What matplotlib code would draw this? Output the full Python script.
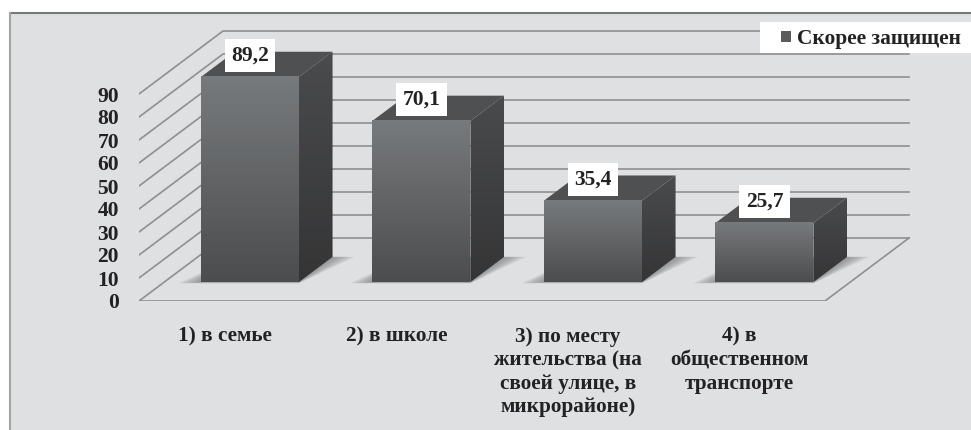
import numpy as np
import matplotlib
matplotlib.use('Agg')
import matplotlib.pyplot as plt
from matplotlib.lines import Line2D
from matplotlib.patches import Patch, Polygon, Rectangle

plt.rcParams['font.family'] = ['Liberation Serif', 'DejaVu Serif']
plt.rcParams['font.weight'] = 'bold'

categories = ['1) в семье', '2) в школе',
              '3) по месту\nжительства (на\nсвоей улице, в\nмикрорайоне)',
              '4) в\nобщественном\nтранспорте']
values = [89.2, 70.1, 35.4, 25.7]
value_labels = ['89,2', '70,1', '35,4', '25,7']
y_ticks = list(range(0, 100, 10))
series_name = 'Скорее защищен'

W, H = 971, 430
PANEL = '#dfe0e2'
GRID = '#8e8f91'
TEXT = '#222222'

# смещение глубины: в единицах категорий и значений
DEPTH_X = 84 / 171.5
DEPTH_Y = 63 / 2.3
BAR_W = 98 / 171.5
BAR_DX = (1 - BAR_W) / 2


def proj(c, v, d):
    return c + d * DEPTH_X, v + d * DEPTH_Y


fig = plt.figure(figsize=(W / 100, H / 100), dpi=100, facecolor='white')

# фон и рамка
fig.add_artist(Rectangle((10 / W, 0), 1, 1 - 13 / H, transform=fig.transFigure,
                         fc=PANEL, ec='none', zorder=-3))
fig.add_artist(Line2D([10 / W, 1], [1 - 13 / H, 1 - 13 / H], color='#77787a', lw=1.5, zorder=-2))
fig.add_artist(Line2D([10 / W, 10 / W], [0, 1 - 13 / H], color='#a2a3a5', lw=1.5, zorder=-2))

# оси: 139..928 px по x, 301..13.5 px по y
ax = fig.add_axes([139 / W, 1 - 301 / H, 789 / W, 287.5 / H])
ax.patch.set_alpha(0)
for s in ax.spines.values():
    s.set_visible(False)

# сетка: диагональ слева и линии на задней стенке
for t in y_ticks:
    x0, y0 = proj(0, t, 0)
    x1, y1 = proj(0, t, 1)
    x2, y2 = proj(4, t, 1)
    ax.plot([x0, x1, x2], [y0, y1, y2], color=GRID, lw=1.2, zorder=1)
# пол
fx, fy = zip(proj(0, 0, 0), proj(4, 0, 0), proj(4, 0, 1))
ax.plot(fx, fy, color=GRID, lw=1.2, zorder=1)

top_grad = np.linspace(0, 1, 64).reshape(-1, 1)
front_cmap = matplotlib.colors.LinearSegmentedColormap.from_list('f', ['#777a7c', '#4c4d4f'])
side_cmap = matplotlib.colors.LinearSegmentedColormap.from_list('s', ['#4a4b4d', '#353536'])

for i, val in enumerate(values):
    # передний левый и правый край столбца
    fl = i + BAR_DX
    fr = fl + BAR_W

    # тень на полу
    for k in range(1, 7):
        e = k * 0.012
        p = [proj(fl - 1.8 * e, -0.6 * k * 0.15, 0.3), proj(fr, -0.6 * k * 0.15, 0.3),
             proj(fr + 1.8 * e, 0, 0.7), proj(fl, 0, 0.7)]
        ax.add_patch(Polygon(p, fc='#6a6b6d', ec='none', alpha=0.13, zorder=2))

    # передняя грань
    a = proj(fl, 0, 0.3)
    b = proj(fr, val, 0.3)
    ax.imshow(top_grad, extent=(a[0], b[0], a[1], b[1]), cmap=front_cmap,
              aspect='auto', origin='upper', zorder=4)

    # боковая грань
    side = [proj(fr, 0, 0.3), proj(fr, 0, 0.7), proj(fr, val, 0.7), proj(fr, val, 0.3)]
    poly = Polygon(side, fc='none', ec='none', zorder=3)
    ax.add_patch(poly)
    sx = [q[0] for q in side]
    sy = [q[1] for q in side]
    im = ax.imshow(top_grad, extent=(min(sx), max(sx), min(sy), max(sy)), cmap=side_cmap,
                   aspect='auto', origin='upper', zorder=3)
    im.set_clip_path(poly)

    # верхняя грань
    top = [proj(fl, val, 0.3), proj(fr, val, 0.3), proj(fr, val, 0.7), proj(fl, val, 0.7)]
    ax.add_patch(Polygon(top, fc='#4f5052', ec='none', zorder=3))

    # подпись значения (над серединой передней грани)
    cx, cy = proj(fl + BAR_W / 2, val, 0.3)
    ax.annotate(value_labels[i], (cx, cy), xytext=(0, 15.3),
                textcoords='offset points', ha='center', va='center', fontsize=15.5,
                color=TEXT, zorder=6,
                bbox=dict(boxstyle='square,pad=0.3', fc='white', ec='none'))

ax.set_xlim(0, 789 / 171.5)
ax.set_ylim(0, 287.5 / 2.3)
ax.set_xticks([i + 0.5 for i in range(len(categories))])
ax.set_xticklabels(categories, fontsize=15.3, color=TEXT, linespacing=1.235,
                   ha='center', va='top')
ax.set_yticks(y_ticks)
ax.set_yticklabels([str(t) for t in y_ticks], fontsize=15.5, color=TEXT)
ax.tick_params(axis='both', length=0)
ax.tick_params(axis='x', pad=18.5)
ax.tick_params(axis='y', pad=14.4)

# легенда на белой плашке
ax.add_patch(Rectangle((760 / W, 1 - 53 / H), 211 / W, 31 / H, transform=fig.transFigure,
                       fc='white', ec='none', zorder=7, clip_on=False))
leg = ax.legend(handles=[Patch(fc='#5a5b5d', ec='none', label=series_name)],
                loc='center left', bbox_to_anchor=(781 / W, 1 - 39 / H),
                bbox_transform=fig.transFigure, frameon=False, fontsize=15.4,
                handlelength=0.47, handleheight=0.47, handletextpad=0.28,
                borderpad=0, borderaxespad=0, labelcolor=TEXT)
leg.set_zorder(8)

fig.savefig('out.png', dpi=100)
